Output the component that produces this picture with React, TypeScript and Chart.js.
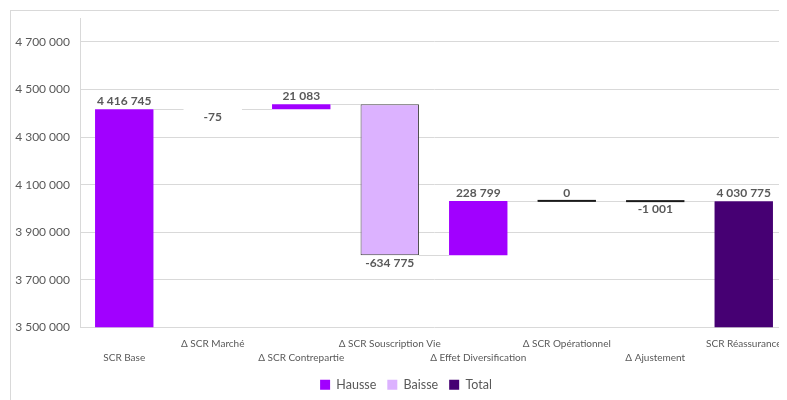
import React, { useEffect, useRef } from "react";
import { Chart, registerables } from "chart.js";

Chart.register(...registerables);

// ---------- data ----------
const categories = [
  "SCR Base",
  "Δ SCR Marché",
  "Δ SCR Contrepartie",
  "Δ SCR Souscription Vie",
  "Δ Effet Diversification",
  "Δ SCR Opérationnel",
  "Δ Ajustement",
  "SCR Réassurance",
];
const values = [4416745, -75, 21083, -634775, 228799, 0, -1001, 4030775];
const isTotal = [true, false, false, false, false, false, false, true];
const seriesOf = ["Hausse", "Baisse", "Hausse", "Baisse", "Hausse", "Hausse", "Baisse", "Total"];
const seriesNames = ["Hausse", "Baisse", "Total"];
const yMin = 3500000;
const yMax = 4800000;
const yTicks = [3500000, 3700000, 3900000, 4100000, 4300000, 4500000, 4700000];

// ---------- styles ----------
const seriesColors: Record<string, string> = {
  Hausse: "#A100FF",
  Baisse: "#DCB2FF",
  Total: "#460073",
};
const flatMarked = new Set(["Δ SCR Opérationnel", "Δ Ajustement"]);
const textColor = "#595959";
const gridColor = "#d9d9d9";
const FONT = "Lato, 'Open Sans', sans-serif";

const fmt = (n: number) => {
  const s = Math.abs(Math.round(n))
    .toString()
    .replace(/\B(?=(\d{3})+(?!\d))/g, " ");
  return (n < 0 ? "-" : "") + s;
};

// build floating ranges from values
const ranges: [number, number][] = [];
{
  let level = 0;
  values.forEach((v, i) => {
    if (isTotal[i]) {
      ranges.push([yMin, v]);
      level = v;
    } else {
      ranges.push([level, level + v]);
      level += v;
    }
  });
}

const waterfallPlugin = {
  id: "waterfall",
  beforeDatasetsDraw(chart: any) {
    const ctx = chart.ctx;
    const y = chart.scales.y;
    ctx.save();
    ctx.strokeStyle = gridColor;
    ctx.lineWidth = 1;
    for (let i = 0; i < categories.length - 1; i++) {
      const a = chart.getDatasetMeta(seriesNames.indexOf(seriesOf[i])).data[i];
      const b = chart.getDatasetMeta(seriesNames.indexOf(seriesOf[i + 1])).data[i + 1];
      const level = ranges[i][1];
      const py = Math.round(y.getPixelForValue(level)) + 0.5;
      ctx.beginPath();
      ctx.moveTo(a.x + a.width / 2, py);
      ctx.lineTo(b.x - b.width / 2, py);
      ctx.stroke();
    }
    ctx.restore();
  },
  afterDatasetsDraw(chart: any) {
    const ctx = chart.ctx;
    const y = chart.scales.y;
    ctx.save();
    for (let i = 0; i < categories.length; i++) {
      const el = chart.getDatasetMeta(seriesNames.indexOf(seriesOf[i])).data[i];
      const [s, e] = ranges[i];
      const top = y.getPixelForValue(Math.max(s, e));
      const bottom = y.getPixelForValue(Math.min(s, e));
      if (flatMarked.has(categories[i])) {
        ctx.fillStyle = "#1a1a1a";
        ctx.fillRect(el.x - el.width / 2, y.getPixelForValue(e) - 1, el.width, 2);
      }
      ctx.fillStyle = textColor;
      ctx.font = `bold 12px ${FONT}`;
      ctx.textAlign = "center";
      const v = values[i];
      if (v < 0) {
        ctx.textBaseline = "top";
        ctx.fillText(fmt(v), el.x, bottom + 2);
      } else {
        ctx.textBaseline = "bottom";
        ctx.fillText(fmt(v), el.x, top - 2);
      }
    }
    ctx.restore();
  },
};

export default function App() {
  const ref = useRef<HTMLCanvasElement | null>(null);

  useEffect(() => {
    if (!ref.current) return;
    Chart.defaults.font.family = FONT;
    const chart = new Chart(ref.current, {
      type: "bar",
      data: {
        labels: categories.map((c, i) => (i % 2 === 0 ? ["", c] : [c])) as any,
        datasets: seriesNames.map((name) => ({
          label: name,
          data: ranges.map((r, i) => (seriesOf[i] === name ? r : null)) as any,
          backgroundColor: seriesColors[name],
          borderColor: name === "Baisse" ? "#404040" : seriesColors[name],
          borderWidth: name === "Baisse" ? 1 : 0,
          borderSkipped: false,
          grouped: false,
          barPercentage: 0.66,
          categoryPercentage: 1,
        })),
      },
      options: {
        animation: false,
        responsive: true,
        maintainAspectRatio: false,
        layout: { padding: { top: 7, left: 0, right: 0, bottom: 0 } },
        plugins: {
          tooltip: { enabled: false },
          legend: {
            position: "bottom",
            labels: {
              boxWidth: 10,
              boxHeight: 10,
              padding: 11,
              color: textColor,
              font: { size: 12.5, family: FONT },
              generateLabels: (c: any) =>
                c.data.datasets.map((ds: any, i: number) => ({
                  text: ds.label,
                  fillStyle: ds.backgroundColor,
                  strokeStyle: ds.backgroundColor,
                  lineWidth: 0,
                  hidden: false,
                  datasetIndex: i,
                  fontColor: textColor,
                })),
            },
          },
        },
        scales: {
          x: {
            grid: { display: false, drawTicks: false },
            border: { display: false },
            ticks: {
              autoSkip: false,
              maxRotation: 0,
              minRotation: 0,
              padding: 9,
              color: textColor,
              font: { size: 10, family: FONT, lineHeight: "14px" } as any,
            },
            afterFit: (s: any) => {
              s.height = 40;
            },
          },
          y: {
            min: yMin,
            max: yMax,
            grid: { color: gridColor, drawTicks: false },
            border: { color: gridColor },
            ticks: {
              padding: 10,
              color: textColor,
              font: { size: 12, family: FONT },
              callback: (v: any) => fmt(Number(v)),
            },
            afterBuildTicks: (s: any) => {
              s.ticks = yTicks.map((value) => ({ value }));
            },
            afterFit: (s: any) => {
              s.width = 69;
              s.paddingTop = 0;
              s.paddingBottom = 0;
            },
          },
          y2: {
            type: "linear",
            position: "right",
            display: true,
            grid: { display: false },
            border: { display: false },
            ticks: { display: false },
            afterFit: (s: any) => {
              s.width = 13;
              s.paddingTop = 0;
              s.paddingBottom = 0;
            },
          },
        },
      },
      plugins: [waterfallPlugin],
    } as any);
    return () => chart.destroy();
  }, []);

  return (
    <div style={{ marginRight: -8, overflow: "hidden", height: 392 }}>
      <div
        style={{
          marginLeft: 2,
          marginTop: 2,
          border: "1px solid #d9d9d9",
          width: 790,
          height: 390,
          position: "relative",
          background: "#fff",
        }}
      >
        <canvas ref={ref} />
      </div>
    </div>
  );
}
